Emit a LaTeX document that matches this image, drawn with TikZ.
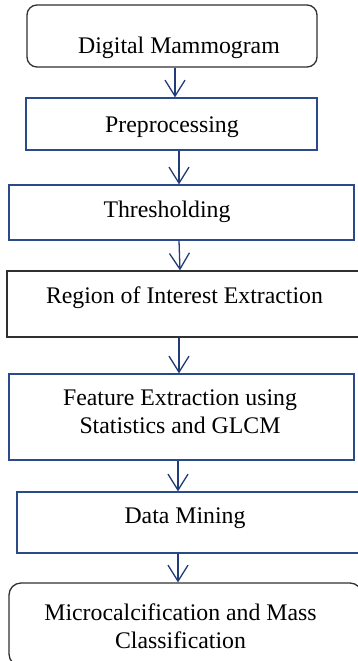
\documentclass[tikz,border=0pt]{standalone}
\usepackage{fontspec}
\setmainfont{Liberation Serif}
\usetikzlibrary{arrows.meta}
\definecolor{navy}{HTML}{203C7A}
\definecolor{boxblue}{HTML}{2B4A8A}
\definecolor{boxgray}{HTML}{303030}
\begin{document}
\begin{tikzpicture}[x=1pt,y=-1pt,
  box/.style={draw,line width=1.3pt,inner sep=0pt,fill=white},
  bluebox/.style={box,draw=boxblue},
  graybox/.style={box,draw=boxgray},
  roundbox/.style={graybox,rounded corners=#1},
  label/.style={inner sep=0pt,anchor=base,align=center,
    font=\fontsize{23.8}{27.5}\selectfont},
  arr/.style={draw=navy,line width=1.3pt,
    -{Straight Barb[length=16pt,width=20pt,line width=1.3pt]}}]
\clip (0,0) rectangle (358,661);
\useasboundingbox (0,0) rectangle (358,661);
\fill[white] (0,0) rectangle (358,661);

% process boxes
\node[roundbox=10pt,minimum width=290pt,minimum height=62pt] (b1) at (172,36) {};
\node[bluebox,minimum width=291pt,minimum height=52pt] (b2) at (171.5,124) {};
\node[bluebox,minimum width=345pt,minimum height=55pt] (b3) at (181.5,212.5) {};
\node[graybox,minimum width=363pt,minimum height=66pt] (b4) at (188.5,304) {};
\node[bluebox,minimum width=345pt,minimum height=86pt] (b5) at (181.5,417) {};
\node[bluebox,minimum width=353pt,minimum height=61pt] (b6) at (193.5,522.5) {};
\node[roundbox=12pt,minimum width=353pt,minimum height=83pt] (b7) at (185.5,624.5) {};

% box captions (multi-line captions sit on the baseline of their last line)
\node[label] (t1) at (179,53) {Digital Mammogram};
\node[label] (t2) at (172,132) {Preprocessing};
\node[label] (t3) at (167,217) {Thresholding};
\node[label] (t4) at (184.5,303) {Region of Interest Extraction};
\node[label] (t5) at (180,433) {Feature Extraction using\\Statistics and GLCM};
\node[label] (t6) at (185,523) {Data Mining};
\node[label] (t7) at (180.5,648) {Microcalcification and Mass\\Classification};

% flow arrows
\draw[arr] ([xshift=3pt]b1.south) -- ([xshift=3.5pt]b2.north);
\draw[arr] ([xshift=7.5pt]b2.south) -- ([xshift=-2.5pt]b3.north);
\draw[arr] ([xshift=-2.5pt]b3.south) -- ([xshift=-8.5pt]b4.north);
\draw[arr] ([xshift=-9.5pt]b4.south) -- ([xshift=-2.5pt]b5.north);
\draw[arr] ([xshift=-3.5pt]b5.south) -- ([xshift=-15.5pt]b6.north);
\draw[arr] ([xshift=-15.5pt]b6.south) -- ([xshift=-7.5pt]b7.north);
\end{tikzpicture}
\end{document}
